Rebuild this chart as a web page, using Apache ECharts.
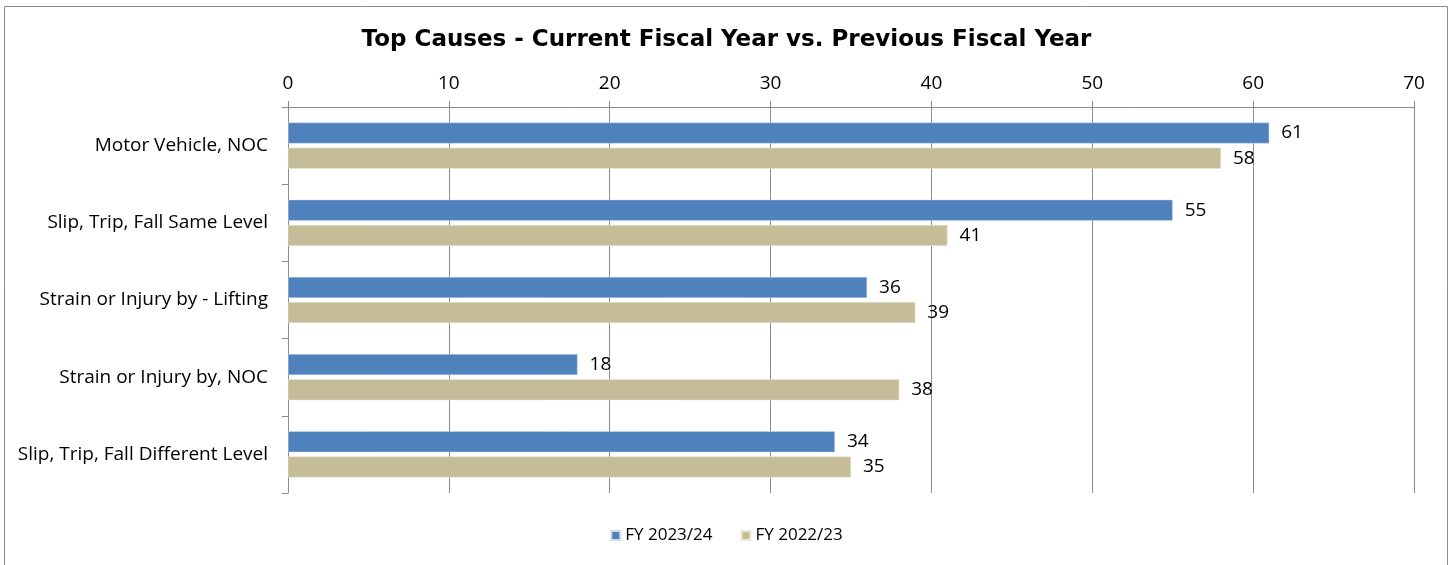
<!DOCTYPE html>
<html><head><meta charset="utf-8">
<script src="https://cdn.jsdelivr.net/npm/echarts@6/dist/echarts.min.js"></script>
<style>html,body{margin:0;padding:0;background:#fff}#c{width:1453px;height:565px}</style>
</head><body><div id="c"></div>
<script>
const categories = ["Motor Vehicle, NOC", "Slip, Trip, Fall Same Level", "Strain or Injury by - Lifting", "Strain or Injury by, NOC", "Slip, Trip, Fall Different Level"];
const fy2324 = [61, 55, 36, 18, 34];
const fy2223 = [58, 41, 39, 38, 35];
const seriesNames = ["FY 2023/24", "FY 2022/23"];
const xTicks = {min: 0, max: 70, interval: 10};

const chart = echarts.init(document.getElementById('c'), null, {renderer: 'canvas'});
const font = "'Open Sans', Lato, sans-serif";
const labelStyle = {show: true, position: 'right', distance: 12, color: '#000', fontSize: 19, fontFamily: font};
chart.setOption({
  animation: false,
  graphic: [{type: 'rect', shape: {x: 4.5, y: 6.5, width: 1443, height: 570}, style: {fill: 'none', stroke: '#8c8c8c', lineWidth: 1}}],
  title: {text: 'Top Causes - Current Fiscal Year vs. Previous Fiscal Year', left: 'center', top: 24,
    textStyle: {fontFamily: "'DejaVu Sans', Verdana, sans-serif", fontWeight: 'bold', fontSize: 23, color: '#000'}},
  legend: {bottom: 16, left: 'center', itemWidth: 9, itemHeight: 9, itemGap: 28, icon: 'rect',
    textStyle: {fontFamily: font, fontSize: 17, color: '#000'}},
  grid: {left: 288, right: 39, top: 107, bottom: 72, containLabel: false},
  xAxis: {type: 'value', position: 'top', min: xTicks.min, max: xTicks.max, interval: xTicks.interval,
    axisLine: {show: true, lineStyle: {color: '#8c8c8c'}},
    axisTick: {show: true, length: 6, lineStyle: {color: '#8c8c8c'}},
    splitLine: {show: true, lineStyle: {color: '#8c8c8c'}},
    axisLabel: {fontFamily: font, fontSize: 19, color: '#000', margin: 14}},
  yAxis: {type: 'category', data: categories, inverse: true,
    axisLine: {show: true, lineStyle: {color: '#8c8c8c'}},
    axisTick: {show: true, length: 6, lineStyle: {color: '#8c8c8c'}},
    axisLabel: {fontFamily: font, fontSize: 19, color: '#000', margin: 20}},
  series: [
    {name: seriesNames[0], type: 'bar', data: fy2324, barWidth: 21, barGap: '20%',
      itemStyle: {color: '#4F81BD', borderColor: '#cfdbea', borderWidth: 0.5}, label: labelStyle},
    {name: seriesNames[1], type: 'bar', data: fy2223, barWidth: 21,
      itemStyle: {color: '#C4BD97', borderColor: '#ece9dc', borderWidth: 0.5}, label: labelStyle}
  ]
});
</script></body></html>
